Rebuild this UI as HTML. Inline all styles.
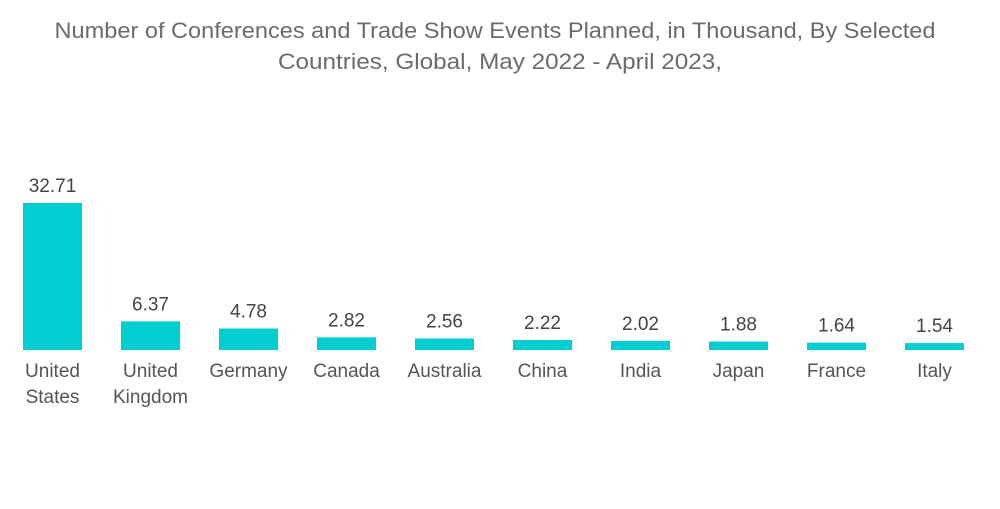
<!DOCTYPE html>
<html><head><meta charset="utf-8"><style>
body{margin:0;background:#fff;width:1000px;height:504px;overflow:hidden;font-family:"Liberation Sans",sans-serif}
</style></head><body>
<svg width="1000" height="504">
<text x="495" y="38" text-anchor="middle" font-size="22.5" fill="#6b6b6b" textLength="881" lengthAdjust="spacingAndGlyphs">Number of Conferences and Trade Show Events Planned, in Thousand, By Selected</text>
<text x="500" y="69" text-anchor="middle" font-size="22.5" fill="#6b6b6b" textLength="444" lengthAdjust="spacingAndGlyphs">Countries, Global, May 2022 - April 2023,</text>
<g id="bars"></g>
</svg>
<script>
const categories=[["United","States"],["United","Kingdom"],["Germany"],["Canada"],["Australia"],["China"],["India"],["Japan"],["France"],["Italy"]];
const values=[32.71,6.37,4.78,2.82,2.56,2.22,2.02,1.88,1.64,1.54];
const valueLabels=["32.71","6.37","4.78","2.82","2.56","2.22","2.02","1.88","1.64","1.54"];
const base=350,scale=147/32.71,x0=23,step=98,bw=59;
const xAt=i=>x0+i*step, yAt=v=>base-v*scale;
const g=document.getElementById('bars'),NS="http://www.w3.org/2000/svg";
values.forEach((v,i)=>{
 const r=document.createElementNS(NS,'rect');
 r.setAttribute('x',xAt(i));r.setAttribute('y',yAt(v));r.setAttribute('width',bw);r.setAttribute('height',base-yAt(v));r.setAttribute('fill','#00CED1');
 
 
 g.appendChild(r);
 const t=document.createElementNS(NS,'text');
 t.setAttribute('x',xAt(i)+bw/2);t.setAttribute('y',yAt(v)-11);t.setAttribute('text-anchor','middle');t.setAttribute('font-size','19');t.setAttribute('fill','#444');
 t.textContent=valueLabels[i];
 
 
 g.appendChild(t);
 categories[i].forEach((line,j)=>{
  const c=document.createElementNS(NS,'text');
  c.setAttribute('x',xAt(i)+bw/2);c.setAttribute('y',377+j*26);c.setAttribute('text-anchor','middle');c.setAttribute('font-size','19');c.setAttribute('fill','#555');
  c.textContent=line;
  
  
  g.appendChild(c);
 });
});
</script>
</body></html>
